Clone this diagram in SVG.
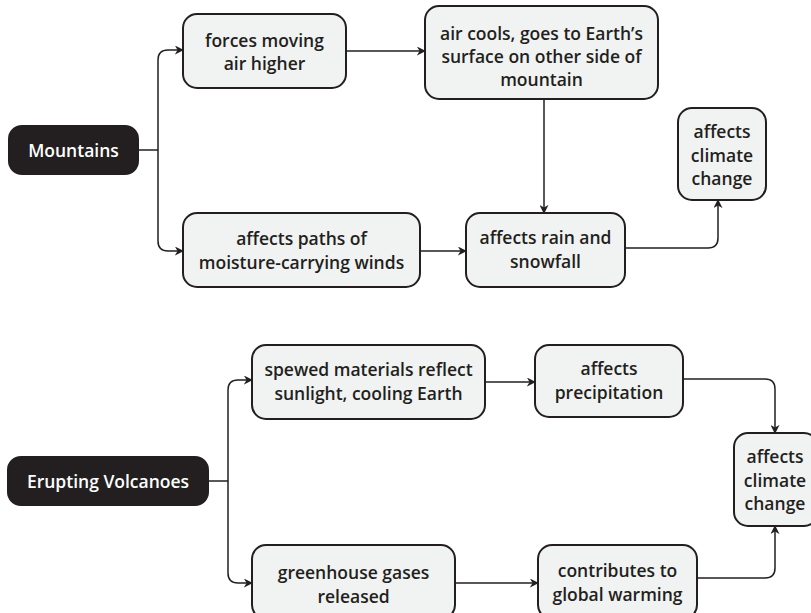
<svg xmlns="http://www.w3.org/2000/svg" width="811" height="613" viewBox="0 0 811 613">
<style>
.box{fill:#f1f3f2;stroke:#231f20;stroke-width:2}
.dark{fill:#231f20;stroke:#231f20;stroke-width:2}
text{font-family:"Open Sans","Noto Sans",sans-serif;font-weight:600;font-size:17.5px;fill:#231f20;text-anchor:middle;dominant-baseline:central}
.w{fill:#ffffff;font-size:17.5px}
.c{fill:none;stroke:#231f20;stroke-width:1.5;marker-end:url(#ah)}
.l{fill:none;stroke:#231f20;stroke-width:1.5}
</style>
<defs>
<marker id="ah" viewBox="0 0 10 10" refX="9" refY="5" markerWidth="9" markerHeight="9" markerUnits="userSpaceOnUse" orient="auto">
<path d="M0,0 L10,5 L0,10 L3,5 z" fill="#231f20"/>
</marker>
</defs>
<rect width="811" height="613" fill="#ffffff"/>
<g id="connectors">
<path class="l" d="M138,150 H158"/>
<path class="c" d="M158,150 V60 Q158,50 168,50 H183"/>
<path class="c" d="M158,150 V241 Q158,251 168,251 H183"/>
<path class="c" d="M346,51 H425"/>
<path class="c" d="M544,99 V213"/>
<path class="c" d="M420,251 H466"/>
<path class="c" d="M625,248 H708 Q718,248 718,238 V200"/>
<path class="l" d="M208,481 H228"/>
<path class="c" d="M228,481 V390 Q228,380 238,380 H252"/>
<path class="c" d="M228,481 V573 Q228,583 238,583 H252"/>
<path class="c" d="M485,382 H535"/>
<path class="c" d="M683,379 H765 Q775,379 775,389 V433"/>
<path class="c" d="M455,583 H538"/>
<path class="c" d="M697,578 H765 Q775,578 775,568 V526"/>
</g>
<g id="mountains">
<rect class="dark" x="9" y="126" width="129" height="48" rx="13"/>
<text class="w" x="73.5" y="150">Mountains</text>
</g>
<g id="forces">
<rect class="box" x="183" y="14" width="163" height="74" rx="14"/>
<text x="264.5" y="40">forces moving</text>
<text x="264.5" y="63">air higher</text>
</g>
<g id="paths">
<rect class="box" x="183" y="213" width="237" height="74" rx="14"/>
<text x="301.5" y="238">affects paths of</text>
<text x="301.5" y="262">moisture-carrying winds</text>
</g>
<g id="aircools">
<rect class="box" x="425" y="6" width="233" height="93" rx="14"/>
<text x="541.5" y="33">air cools, goes to Earth’s</text>
<text x="541.5" y="56">surface on other side of</text>
<text x="541.5" y="79">mountain</text>
</g>
<g id="rain">
<rect class="box" x="466" y="213" width="159" height="74" rx="14"/>
<text x="545.5" y="237">affects rain and</text>
<text x="545.5" y="261">snowfall</text>
</g>
<g id="climate1">
<rect class="box" x="678" y="108" width="88" height="92" rx="14"/>
<text x="722" y="131">affects</text>
<text x="722" y="155">climate</text>
<text x="722" y="178">change</text>
</g>
<g id="volcanoes">
<rect class="dark" x="8" y="457" width="200" height="48" rx="13"/>
<text class="w" x="108" y="481">Erupting Volcanoes</text>
</g>
<g id="spewed">
<rect class="box" x="252" y="345" width="233" height="74" rx="14"/>
<text x="368.5" y="369">spewed materials reflect</text>
<text x="368.5" y="393">sunlight, cooling Earth</text>
</g>
<g id="precip">
<rect class="box" x="535" y="345" width="148" height="72" rx="14"/>
<text x="609" y="368">affects</text>
<text x="609" y="392">precipitation</text>
</g>
<g id="climate2">
<rect class="box" x="734" y="433" width="84" height="93" rx="14"/>
<text x="775" y="456">affects</text>
<text x="775" y="480">climate</text>
<text x="775" y="503">change</text>
</g>
<g id="greenhouse">
<rect class="box" x="252" y="545" width="203" height="74" rx="14"/>
<text x="353.5" y="572">greenhouse gases</text>
<text x="353.5" y="596">released</text>
</g>
<g id="contributes">
<rect class="box" x="538" y="545" width="159" height="74" rx="14"/>
<text x="617.5" y="570">contributes to</text>
<text x="617.5" y="594">global warming</text>
</g>
</svg>
